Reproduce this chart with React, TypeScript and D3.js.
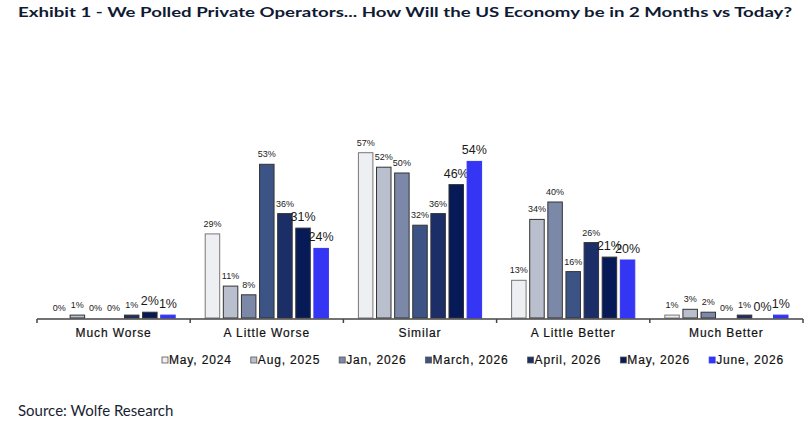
import * as d3 from 'd3';
import { useEffect, useRef } from 'react';

const categories = ['Much Worse', 'A Little Worse', 'Similar', 'A Little Better', 'Much Better'];
const seriesNames = ['May, 2024', 'Aug, 2025', 'Jan, 2026', 'March, 2026', 'April, 2026', 'May, 2026', 'June, 2026'];

// values per series, in category order
const may2024 = [0, 29, 57, 13, 1];
const aug2025 = [1, 11, 52, 34, 3];
const jan2026 = [0, 8, 50, 40, 2];
const mar2026 = [0, 53, 32, 16, 0];
const apr2026 = [1, 36, 36, 26, 1];
const may2026 = [2, 31, 46, 21, 0];
const jun2026 = [1, 24, 54, 20, 1];

const seriesValues = [may2024, aug2025, jan2026, mar2026, apr2026, may2026, jun2026];
const seriesColors = ['#eeeff3', '#b9bfcc', '#7c88a7', '#3c5485', '#1b2e67', '#061a57', '#3535f4'];
// the two latest series get the bigger labels
const bigLabel = [false, false, false, false, false, true, true];

const W = 811;
const H = 429;

const App = () => {
    const ref = useRef<SVGSVGElement>(null);

    useEffect(() => {
        const svg = d3.select(ref.current);
        svg.selectAll('*').remove();

        const left = 37, right = 803, baseY = 318;

        // title
        svg.append('text')
            .attr('x', 18).attr('y', 17)
            .attr('textLength', 774).attr('lengthAdjust', 'spacingAndGlyphs')
            .style('font-family', 'Lato, sans-serif')
            .style('font-weight', 700)
            .style('font-size', '14px')
            .style('fill', '#101a33')
            .text('Exhibit 1 - We Polled Private Operators... How Will the US Economy be in 2 Months vs Today?');

        const x0 = d3.scaleBand<string>().domain(categories).range([left, right]);
        const x1 = d3.scaleBand<string>().domain(seriesNames).range([15, x0.bandwidth() - 15]).paddingInner(0.2);
        const y = d3.scaleLinear().domain([0, 60]).range([baseY, baseY - 174]);

        const groups = svg.append('g')
            .selectAll('g')
            .data(categories)
            .join('g')
            .attr('transform', d => `translate(${x0(d)},0)`);

        groups.each(function (cat, ci) {
            const g = d3.select(this);
            seriesNames.forEach((s, si) => {
                const v = seriesValues[si][ci];
                const bx = x1(s)!;
                if (v > 0) {
                    g.append('rect')
                        .attr('x', bx)
                        .attr('y', y(v))
                        .attr('width', x1.bandwidth())
                        .attr('height', baseY - y(v))
                        .attr('fill', seriesColors[si])
                        .attr('stroke', si === 6 ? '#3535f4' : (si === 0 ? '#777' : '#333'))
                        .attr('stroke-width', 1);
                }
                g.append('text')
                    .attr('x', bx + x1.bandwidth() / 2)
                    .attr('y', y(v) - 7)
                    .attr('text-anchor', 'middle')
                    .style('font-family', '"Liberation Sans", Arial, sans-serif')
                    .style('font-size', bigLabel[si] ? '12.5px' : '9px')
                    .style('fill', '#1a1a1a')
                    .text(`${v}%`);
            });
        });

        // axis line with ticks between categories
        svg.append('line')
            .attr('x1', left).attr('x2', right)
            .attr('y1', baseY + 1).attr('y2', baseY + 1)
            .attr('stroke', '#444').attr('stroke-width', 1.5);
        const ticks = categories.map(c => x0(c)!).concat([right]);
        svg.append('g').selectAll('line')
            .data(ticks)
            .join('line')
            .attr('x1', d => d).attr('x2', d => d)
            .attr('y1', baseY + 1).attr('y2', baseY + 5)
            .attr('stroke', '#444').attr('stroke-width', 1.5);

        svg.append('g').selectAll('text')
            .data(categories)
            .join('text')
            .attr('x', d => x0(d)! + x0.bandwidth() / 2)
            .attr('y', 337)
            .attr('text-anchor', 'middle')
            .style('font-family', '"Liberation Sans", Arial, sans-serif')
            .style('font-size', '12px')
            .style('letter-spacing', '0.9px')
            .style('fill', '#111')
            .style('stroke', '#111').style('stroke-width', 0.2)
            .text(d => d);

        // legend
        const legend = svg.append('g');
        let lx = 162;
        seriesNames.forEach((s, i) => {
            legend.append('rect')
                .attr('x', lx).attr('y', 357)
                .attr('width', 6).attr('height', 6)
                .attr('fill', seriesColors[i])
                .attr('stroke', i === 6 ? '#3535f4' : '#555')
                .attr('stroke-width', 0.8);
            const t = legend.append('text')
                .attr('x', lx + 7).attr('y', 364)
                .style('font-family', '"Liberation Sans", Arial, sans-serif')
                .style('font-size', '12px')
                .style('letter-spacing', '0.85px')
                .style('fill', '#111')
                .style('stroke', '#111').style('stroke-width', 0.2)
                .text(s);
            const w = (t.node() as SVGTextElement).getComputedTextLength();
            lx += 7 + w + 19;
        });

        // source
        svg.append('text')
            .attr('x', 18).attr('y', 416)
            .style('font-family', 'Lato, sans-serif')
            .style('font-size', '15px')
            .style('fill', '#1a1f33')
            .text('Source: Wolfe Research');
    }, []);

    return (
        <svg ref={ref} width={W} height={H}
            style={{ position: 'absolute', left: 0, top: 0, background: '#fff' }} />
    );
};

export default App;
